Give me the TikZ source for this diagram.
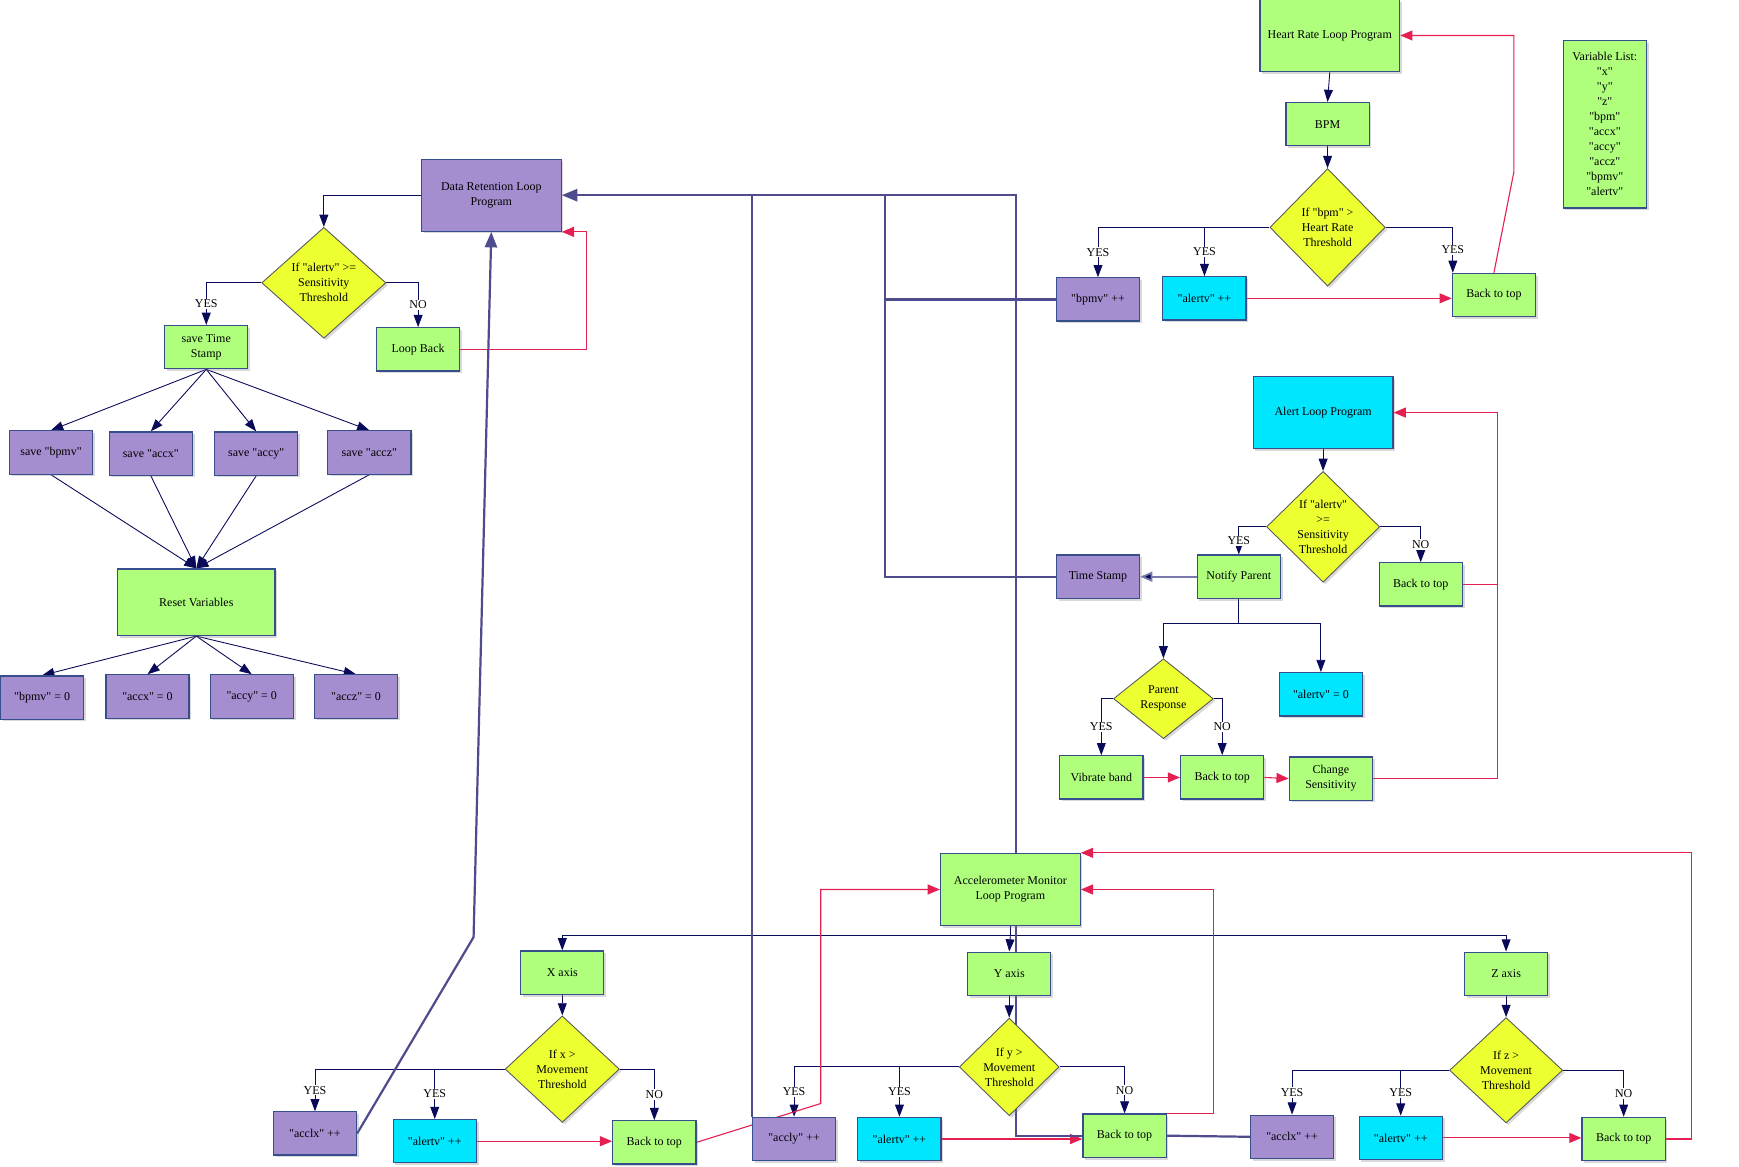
\documentclass[tikz,border=0pt]{standalone}
\usepackage{fontspec}
\setmainfont{Liberation Serif}[Ligatures=TeXOff]
\usetikzlibrary{shapes.geometric,arrows.meta,shadows,calc}
\newcommand{\qq}[1]{"#1"}
\definecolor{gfill}{RGB}{175,255,125}
\definecolor{pfill}{RGB}{165,142,208}
\definecolor{cfill}{RGB}{0,230,255}
\definecolor{yfill}{RGB}{236,255,48}
\definecolor{bord}{RGB}{55,78,140}
\definecolor{navy}{RGB}{10,10,90}
\definecolor{crim}{RGB}{228,32,82}
\definecolor{plum}{RGB}{78,76,140}
\definecolor{slate}{RGB}{120,120,170}
\pgfdeclarelayer{bg}
\pgfsetlayers{bg,main}
\begin{document}
\begin{tikzpicture}[x=1pt,y=-1pt,
  font=\fontsize{10.8}{13.5}\selectfont,
  base/.style={draw=bord, line width=1.1pt, drop shadow={shadow xshift=2pt,shadow yshift=-2pt,opacity=0.3}, align=center, inner sep=1pt, minimum width=75pt, minimum height=39pt},
  gbox/.style={base, fill=gfill},
  pbox/.style={base, fill=pfill},
  cbox/.style={base, fill=cfill},
  bigbox/.style={minimum width=126pt, minimum height=65pt},
  dia/.style={diamond, draw=black!65, fill=yfill, line width=0.8pt, drop shadow={shadow xshift=2pt,shadow yshift=-2pt,opacity=0.3}, inner sep=0pt},
  dtext/.style={align=center, inner sep=0pt},
  nv/.style={draw=navy, line width=0.8pt},
  nva/.style={nv, -{Triangle[length=11pt,width=8pt]}},
  rd/.style={draw=crim, line width=1pt, -{Triangle[length=11pt,width=9pt]}},
  rdl/.style={draw=crim, line width=1pt},
  pl/.style={draw=plum, line width=2pt},
  pla/.style={pl, -{Triangle[length=14pt,width=11pt]}},
  lbl/.style={fill=white, inner sep=1pt}
]
\useasboundingbox (0,0) rectangle (1568,1052);

% ---------------- Heart rate section
\node[gbox,bigbox] (hr) at (1199,32) {Heart Rate Loop Program};
\node[gbox] (bpm) at (1197,112) {BPM};
\node[dia, minimum width=104pt, minimum height=106pt] (d1) at (1197,205) {};
\node[dtext] (d1t) at (d1) {If \qq{bpm} >\\Heart Rate\\Threshold};
\node[pbox] (bpmv) at (990,270) {\qq{bpmv} ++};
\node[cbox] (alv1) at (1086,269) {\qq{alertv} ++};
\node[gbox] (bt1) at (1347,266) {Back to top};
\node[gbox, minimum height=151pt] (vl) at (1447,112) {Variable List:\\\qq{x}\\\qq{y}\\\qq{z}\\\qq{bpm}\\\qq{accx}\\\qq{accy}\\\qq{accz}\\\qq{bpmv}\\\qq{alertv}};

% ---------------- Data retention section
\node[pbox,bigbox] (dr) at (443,176) {Data Retention Loop\\Program};
\node[dia, minimum width=112pt, minimum height=100pt] (d2) at (292,255) {};
\node[dtext] (d2t) at (d2) {If \qq{alertv} >=\\Sensitivity\\Threshold};
\node[gbox] (sts) at (186,313) {save Time\\Stamp};
\node[gbox] (lb) at (377,315) {Loop Back};
\node[pbox] (sb1) at (46,408) {save \qq{bpmv}};
\node[pbox] (sb2) at (136,409) {save \qq{accx}};
\node[pbox] (sb3) at (231,409) {save \qq{accy}};
\node[pbox] (sb4) at (333,408) {save \qq{accz}};
\node[gbox, minimum width=142pt, minimum height=60pt] (rv) at (177,543) {Reset Variables};
\node[pbox] (z1) at (38,629) {\qq{bpmv} = 0};
\node[pbox] (z2) at (133,628) {\qq{accx} = 0};
\node[pbox] (z3) at (227,628) {\qq{accy} = 0};
\node[pbox] (z4) at (321,628) {\qq{accz} = 0};

% ---------------- Alert section
\node[cbox,bigbox] (al) at (1193,372) {Alert Loop Program};
\node[dia, minimum width=102pt, minimum height=100pt] (d3) at (1193,475) {};
\node[dtext] (d3t) at (d3) {If \qq{alertv}\\>=\\Sensitivity\\Threshold};
\node[gbox] (np) at (1117,520) {Notify Parent};
\node[pbox] (ts) at (990,520) {Time Stamp};
\node[gbox] (bt2) at (1281,527) {Back to top};
\node[dia, minimum width=90pt, minimum height=72pt] (d4) at (1049,630) {};
\node[dtext] (d4t) at (d4) {Parent\\Response};
\node[cbox] (al0) at (1191,626) {\qq{alertv} = 0};
\node[gbox] (vb) at (993,701) {Vibrate band};
\node[gbox] (bt3) at (1102,701) {Back to top};
\node[gbox] (cs) at (1200,702) {Change\\Sensitivity};

% ---------------- Accelerometer section
\node[gbox,bigbox] (acc) at (911,802) {Accelerometer Monitor\\Loop Program};
\node[gbox] (xa) at (507,877) {X axis};
\node[gbox] (ya) at (910,878) {Y axis};
\node[gbox] (za) at (1358,878) {Z axis};
\node[dia, minimum width=103pt, minimum height=96pt] (dx) at (507,964) {};
\node[dtext] (dxt) at (dx) {If x >\\Movement\\Threshold};
\node[dia, minimum width=90pt, minimum height=88pt] (dy) at (910,962) {};
\node[dtext] (dyt) at (dy) {If y >\\Movement\\Threshold};
\node[dia, minimum width=102pt, minimum height=95pt] (dz) at (1358,965) {};
\node[dtext] (dzt) at (dz) {If z >\\Movement\\Threshold};
\node[pbox] (acclx) at (284,1022) {\qq{acclx} ++};
\node[cbox] (alvx) at (392,1029) {\qq{alertv} ++};
\node[gbox] (btx) at (590,1030) {Back to top};
\node[pbox] (accly) at (716,1027) {\qq{accly} ++};
\node[cbox] (alvy) at (811,1027) {\qq{alertv} ++};
\node[gbox] (bty) at (1014,1024) {Back to top};
\node[pbox] (acclz) at (1165,1025) {\qq{acclx} ++};
\node[cbox] (alvz) at (1263,1026) {\qq{alertv} ++};
\node[gbox] (btz) at (1464,1027) {Back to top};

\coordinate (j1) at (798,176);
\coordinate (k1) at (427,845);
\coordinate (hb) at (911,843);
\coordinate (nb) at (1117,562);
\coordinate (r1) at (1365,155);
\coordinate (r2) at (1350,372);
\coordinate (r3) at (740,995);

\begin{pgfonlayer}{bg}
% heart rate
\draw[nva] (hr.south) -- (bpm.north);
\draw[nva] (bpm.south) -- (d1.north);
\draw[nva] (d1.west) -| node[lbl,pos=0.75]{YES} (bpmv.north);
\draw[nva] (d1.west) -| node[lbl,pos=0.75]{YES} (alv1.north);
\draw[nva] (d1.east) -| node[lbl,pos=0.75]{YES} ([xshift=1pt]bt1.north west);
\draw[rd] (alv1.east) -- (alv1.east -| bt1.west);
\draw[rd] (bt1.north) -- (r1) |- (hr.east);

% data retention
\draw[nva] (dr.west) -| (d2.north);
\draw[nva] (d2.west) -| node[lbl,pos=0.75]{YES} (sts.north);
\draw[nva] (d2.east) -| node[lbl,pos=0.75]{NO} (lb.north);
\draw[rd] (lb.east) -| ([xshift=22pt]dr.south east) -- (dr.south east);
\foreach \b in {sb1,sb2,sb3,sb4}{
  \draw[nva] (sts.south) -- (\b.north);
  \draw[nva] (\b.south) -- (rv.north);
}
\foreach \b in {z1,z2,z3,z4}{
  \draw[nva] (rv.south) -- (\b.north);
}

% alert
\draw[nva] (al.south) -- (d3.north);
\draw[nva] (d3.west) -| node[lbl,pos=0.75]{YES} (np.north);
\draw[nva] (d3.east) -| node[lbl,pos=0.75]{NO} (bt2.north);
\draw[draw=slate, line width=1.6pt, -{Triangle[length=11pt,width=9pt,fill=navy]}] (np.west) -- (ts.east);
\draw[nv] (np.south) -- (nb);
\draw[nva] (nb) -| (d4.north);
\draw[nva] (nb) -| (al0.north);
\draw[nva] (d4.west) -| node[lbl,pos=0.75]{YES} (vb.north);
\draw[nva] (d4.east) -| node[lbl,pos=0.75]{NO} (bt3.north);
\draw[rd] (vb.east) -- (bt3.west);
\draw[rd] (bt3.east) -- (cs.west);
\draw[rd] (cs.east) -| (r2) -- (al.east);
\draw[rdl] (bt2.east) -- (bt2.east -| r2);

% accelerometer
\draw[nv] (acc.south) -- (hb);
\draw[nva] (hb) -| (xa.north);
\draw[nva] (hb) -- (ya.north);
\draw[nva] (hb) -| (za.north);
\draw[nva] (xa.south) -- (dx.north);
\draw[nva] (ya.south) -- (dy.north);
\draw[nva] (za.south) -- (dz.north);
\draw[nva] (dx.west) -| node[lbl,pos=0.75]{YES} (acclx.north);
\draw[nva] (dx.west) -| node[lbl,pos=0.75]{YES} (alvx.north);
\draw[nva] (dx.east) -| node[lbl,pos=0.75]{NO} (btx.north);
\draw[nva] (dy.west) -| node[lbl,pos=0.75]{YES} (accly.north);
\draw[nva] (dy.west) -| node[lbl,pos=0.75]{YES} (alvy.north);
\draw[nva] (dy.east) -| node[lbl,pos=0.75]{NO} (bty.north);
\draw[nva] (dz.west) -| node[lbl,pos=0.75]{YES} (acclz.north);
\draw[nva] (dz.west) -| node[lbl,pos=0.75]{YES} (alvz.north);
\draw[nva] (dz.east) -| node[lbl,pos=0.75]{NO} (btz.north);
\draw[rd] (alvx.east) -- (alvx.east -| btx.west);
\draw[rd] (btx.east) -- (r3) |- (acc.west);
\draw[rd] (alvy.east) -- (alvy.east -| bty.west);
\draw[rd] (bty.north east) -- ++(42,0) |- (acc.east);
\draw[rd] (alvz.east) -- (alvz.east -| btz.west);
\draw[rd] (btz.east) -- ++(23,0) |- (acc.north east);

% big purple trunk lines
\draw[pla] ([xshift=5pt]acc.north) |- (dr.east);
\draw[pl] (ts.west) -| (j1);
\draw[pl] (bpmv.west) -- (bpmv.west -| j1);
\draw[pl] (accly.north west) -- (accly.north west |- dr.east);
\draw[pla] (acclx.east) -- (k1) -- (dr.south);
\draw[pl] ([xshift=5pt]acc.south) |- (bty.west);
\draw[pl] (bty.east) -- (acclz.west);
\end{pgfonlayer}
\end{tikzpicture}
\end{document}
